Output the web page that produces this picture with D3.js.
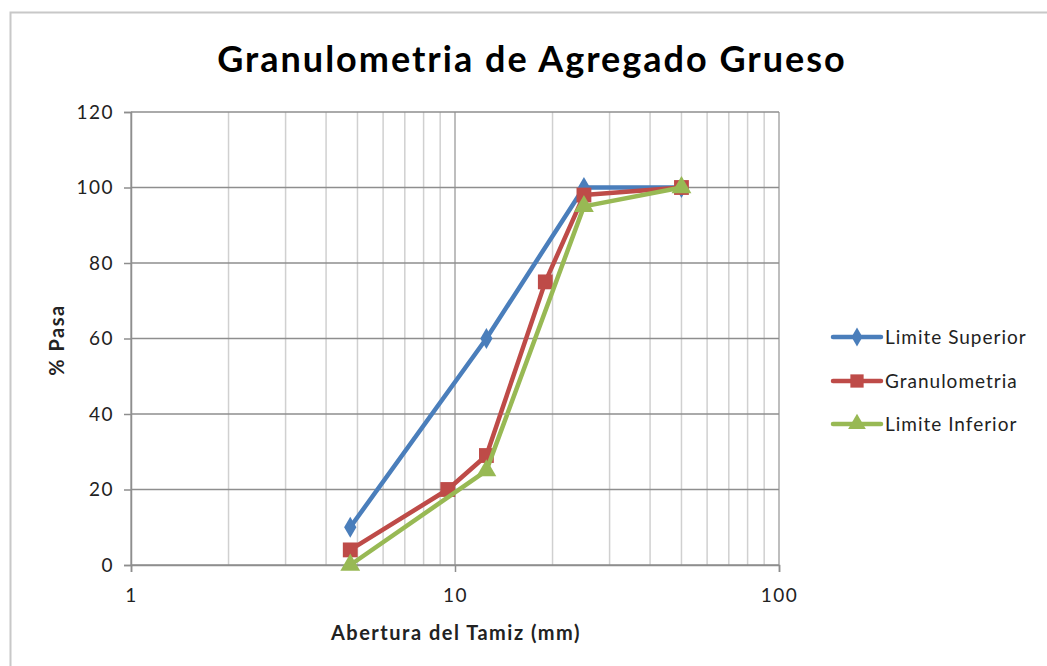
<!DOCTYPE html>
<html><head><meta charset="utf-8">
<script src="https://cdn.jsdelivr.net/npm/d3@7"></script>
<style>body{margin:0;background:#fff;}svg{display:block;font-family:Lato,"Open Sans",sans-serif;}</style>
</head><body>
<svg id="c" width="1047" height="666"></svg>
<script>
const sieveSizes = [4.75, 9.5, 12.5, 19, 25, 50];
const limitSizes = [4.75, 12.5, 25, 50];
const limiteSuperior = [10, 60, 100, 100];
const granulometria = [4, 20, 29, 75, 98, 100];
const limiteInferior = [0, 25, 95, 100];
const yTicks = [0, 20, 40, 60, 80, 100, 120];
const xTicks = [1, 10, 100];
const seriesNames = ["Limite Superior", "Granulometria", "Limite Inferior"];
const colors = ["#4A7EBB", "#BE4B48", "#98B954"];

const svg = d3.select("#c");
svg.append("rect").attr("x",10.5).attr("y",12.5).attr("width",1100).attr("height",700)
  .attr("fill","#fff").attr("stroke","#c8c8c8").attr("stroke-width",2);

const L=131,R=779,T=112,B=565;
const x=d3.scaleLog().domain([1,100]).range([L,R]);
const y=d3.scaleLinear().domain([0,120]).range([B,T]);

const minors=[];
for(let d=1;d<100;d*=10) for(let k=2;k<=9;k++) minors.push(d*k);
svg.append("g").selectAll("line").data(minors).join("line")
  .attr("x1",d=>x(d)).attr("x2",d=>x(d)).attr("y1",T).attr("y2",B)
  .attr("stroke","#d0d0d0").attr("stroke-width",1.5);
svg.append("g").selectAll("line").data(xTicks).join("line")
  .attr("x1",d=>x(d)).attr("x2",d=>x(d)).attr("y1",T).attr("y2",B)
  .attr("stroke","#a8a8a8").attr("stroke-width",1.5);
svg.append("g").selectAll("line").data(yTicks).join("line")
  .attr("x1",L).attr("x2",R).attr("y1",d=>y(d)).attr("y2",d=>y(d))
  .attr("stroke","#8e8e8e").attr("stroke-width",1.5);

const ya=svg.append("g").attr("transform",`translate(${L},0)`)
  .call(d3.axisLeft(y).tickValues(yTicks).tickSize(7).tickPadding(10));
const xa=svg.append("g").attr("transform",`translate(0,${B})`)
  .call(d3.axisBottom(x).tickValues(xTicks).tickFormat(d3.format("d")).tickSize(7).tickPadding(17));
[ya,xa].forEach(a=>{
  a.select(".domain").attr("stroke","#8e8e8e").attr("stroke-width",1.5);
  a.selectAll(".tick line").attr("stroke","#8e8e8e").attr("stroke-width",1.5);
  a.selectAll("text").attr("font-size",19).attr("letter-spacing",1.5).attr("fill","#222").attr("font-family","Lato,sans-serif");
});

svg.append("text").attr("x",532).attr("y",72).attr("text-anchor","middle")
  .attr("font-size",36).attr("letter-spacing",2).attr("font-weight","bold").attr("fill","#000").text("Granulometria de Agregado Grueso");
svg.append("text").attr("x",456).attr("y",640).attr("text-anchor","middle")
  .attr("font-size",20).attr("letter-spacing",1.5).attr("font-weight","bold").attr("fill","#222").text("Abertura del Tamiz (mm)");
svg.append("text").attr("transform","translate(64,340) rotate(-90)").attr("text-anchor","middle")
  .attr("font-size",20).attr("letter-spacing",1.5).attr("font-weight","bold").attr("fill","#222").text("% Pasa");

const series=[
  {xs:limitSizes, ys:limiteSuperior, sym:d3.symbolDiamond, size:130},
  {xs:sieveSizes, ys:granulometria, sym:d3.symbolSquare, size:220},
  {xs:limitSizes, ys:limiteInferior, sym:d3.symbolTriangle, size:170}
];
const line=d3.line().x(d=>x(d[0])).y(d=>y(d[1]));
series.forEach((s,i)=>{
  const pts=s.xs.map((v,j)=>[v,s.ys[j]]);
  svg.append("path").datum(pts).attr("d",line).attr("fill","none")
    .attr("stroke",colors[i]).attr("stroke-width",4.5).attr("stroke-linejoin","round");
  svg.append("g").selectAll("path").data(pts).join("path")
    .attr("transform",d=>`translate(${x(d[0])},${y(d[1])})`)
    .attr("d",d3.symbol().type(s.sym).size(s.size)).attr("fill",colors[i]);
});

const ly=[337,381,424];
series.forEach((s,i)=>{
  const g=svg.append("g");
  g.append("line").attr("x1",833).attr("x2",881).attr("y1",ly[i]).attr("y2",ly[i])
    .attr("stroke",colors[i]).attr("stroke-width",4.5).attr("stroke-linecap","round");
  g.append("path").attr("transform",`translate(857,${ly[i]})`)
    .attr("d",d3.symbol().type(s.sym).size(s.size*0.8)).attr("fill",colors[i]);
  g.append("text").attr("x",885).attr("y",ly[i]+7).attr("font-size",19).attr("letter-spacing",1).attr("fill","#222").text(seriesNames[i]);
});
</script>
</body></html>
